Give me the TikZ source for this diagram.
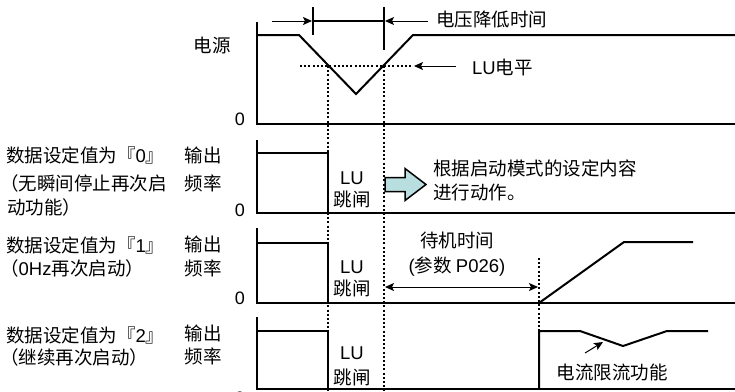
\documentclass[tikz,border=0pt]{standalone}
\usepackage{fontspec}
\setmainfont{Noto Sans CJK SC}
\newfontfamily\lat{Liberation Sans}
\usetikzlibrary{arrows.meta}
\definecolor{arrfill}{HTML}{B9DEDF}
\begin{document}
\begin{tikzpicture}[x=1pt,y=-1pt,
  wave/.style={line width=2pt,line join=miter},
  dots/.style={line width=2pt,dash pattern=on 2pt off 2.2pt},
  thinarr/.style={line width=1pt,-{Stealth[length=9pt,width=8pt,inset=2pt]}},
  dblarr/.style={line width=1pt,{Stealth[length=9pt,width=8pt,inset=2pt]}-{Stealth[length=9pt,width=8pt,inset=2pt]}},
  lbl/.style={font=\fontsize{18.5}{21}\selectfont,inner sep=0pt},
  llbl/.style={lbl,anchor=west},
  zero/.style={font=\lat\fontsize{18}{21}\selectfont,inner sep=0pt}]
\useasboundingbox (0,0) rectangle (735,391);
% ---------- panel 1: supply voltage
\draw[wave] (257,22) -- (257,124) -- (735,124);
\draw[wave] (257,35) -- (299,35) -- (356,94) -- (413,35) -- (735,35);
\draw[dots] (300,66) -- (412,66);
\coordinate (luA) at (456,66);
\coordinate (luB) at (414,66);
\draw[thinarr] (luA) -- (luB);
\draw[dots] (328,66) -- (328,391);
\draw[dots] (384,66) -- (384,391);
\draw[line width=2pt] (313,7) -- (313,35);
\draw[line width=2pt] (384,7) -- (384,50);
\draw[line width=2pt] (313,21) -- (384,21);
\coordinate (dA) at (272,21);
\coordinate (dB) at (312,21);
\coordinate (dC) at (428,21);
\coordinate (dD) at (385,21);
\draw[thinarr] (dA) -- (dB);
\draw[thinarr] (dC) -- (dD);
\node[lbl] (src) at (212,45) {电源};
\node[zero] (z1) at (240,119) {0};
\node[llbl] (vdt) at (436,20) {电压降低时间};
\node[llbl] (lul) at (472,67) {{\lat LU}电平};
% ---------- panel 2
\draw[wave] (257,140) -- (257,213) -- (735,213);
\draw[wave] (257,153) -- (328,153) -- (328,213);
\draw[line width=1.5pt,fill=arrfill,line join=miter]
  (385,177.5) -- (405,177.5) -- (405,168.5) -- (426,184.5) -- (405,200.5) -- (405,191.5) -- (385,191.5) -- cycle;
\node[llbl] (d0a) at (6,155) {数据设定值为『{\lat 0}』};
\node[llbl] (d0b) at (0,183) {（无瞬间停止再次启};
\node[llbl] (d0c) at (7,207) {动功能）};
\node[lbl] (o2a) at (203,155) {输出};
\node[lbl] (o2b) at (203,183) {频率};
\node[zero] (z2) at (240,210) {0};
\node[lbl] (lu2a) at (352,178) {\lat LU};
\node[lbl] (lu2b) at (352,199) {跳闸};
\node[llbl] (t2a) at (433,168) {根据启动模式的设定内容};
\node[llbl] (t2b) at (433,192) {进行动作。};
% ---------- panel 3
\draw[wave] (257,228) -- (257,303) -- (735,303);
\draw[wave] (257,243) -- (328,243) -- (328,303);
\draw[wave] (539,303) -- (624,242) -- (693,242);
\draw[dots] (539,258) -- (539,331);
\coordinate (wA) at (385,287);
\coordinate (wB) at (538,287);
\draw[dblarr] (wA) -- (wB);
\node[llbl] (d1a) at (6,245) {数据设定值为『{\lat 1}』};
\node[llbl] (d1b) at (0,268) {（{\lat 0Hz}再次启动）};
\node[lbl] (o3a) at (203,244) {输出};
\node[lbl] (o3b) at (203,268) {频率};
\node[zero] (z3) at (240,298) {0};
\node[lbl] (lu3a) at (352,267) {\lat LU};
\node[lbl] (lu3b) at (352,288) {跳闸};
\node[lbl] (w1) at (457,240) {待机时间};
\node[lbl] (w2) at (457,267) {{\lat (}参数 {\lat P026)}};
% ---------- panel 4
\draw[wave] (257,317) -- (257,389) -- (735,389);
\draw[wave] (257,331) -- (328,331) -- (328,389);
\draw[wave] (539,389) -- (539,331) -- (580,331) -- (623,346) -- (667,331) -- (708,331);
\coordinate (cA) at (585,353);
\coordinate (cB) at (603,342);
\draw[thinarr] (cA) -- (cB);
\node[llbl] (d2a) at (6,335) {数据设定值为『{\lat 2}』};
\node[llbl] (d2b) at (0,357) {（继续再次启动）};
\node[lbl] (o4a) at (203,333) {输出};
\node[lbl] (o4b) at (203,356) {频率};
\node[zero] (z4) at (240,398) {0};
\node[lbl] (lu4a) at (352,353) {\lat LU};
\node[lbl] (lu4b) at (352,377) {跳闸};
\node[lbl] (cl) at (612,372) {电流限流功能};
\end{tikzpicture}
\end{document}
